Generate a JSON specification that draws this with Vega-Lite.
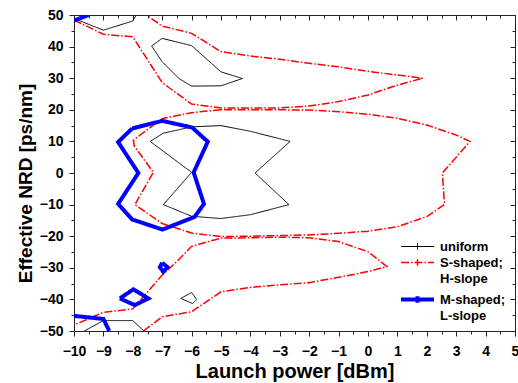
{
  "$schema": "https://vega.github.io/schema/vega-lite/v6.json",
  "width": 441,
  "height": 316,
  "autosize": "none",
  "padding": {"left": 74, "top": 15, "right": 3, "bottom": 52},
  "background": "white",
  "config": {
    "view": {"stroke": null},
    "font": "Liberation Sans",
    "axis": {"grid": false, "domainColor": "#222", "tickColor": "#222", "labelColor": "#000", "titleColor": "#000", "domainWidth": 1, "tickWidth": 1}
  },
  "data": {"values": [
    {"s":"uniform","p":"b1","i":0,"x":-10,"y":48.9},{"s":"uniform","p":"b1","i":1,"x":-9,"y":45.2},{"s":"uniform","p":"b1","i":2,"x":-8,"y":48.1},{"s":"uniform","p":"b1","i":3,"x":-7.88,"y":50},
    {"s":"uniform","p":"b2","i":0,"x":-7.36,"y":40.2},{"s":"uniform","p":"b2","i":1,"x":-7,"y":42.6},{"s":"uniform","p":"b2","i":2,"x":-6,"y":40.3},{"s":"uniform","p":"b2","i":3,"x":-5,"y":32},{"s":"uniform","p":"b2","i":4,"x":-4.27,"y":29.9},{"s":"uniform","p":"b2","i":5,"x":-5,"y":27.6},{"s":"uniform","p":"b2","i":6,"x":-6,"y":27.5},{"s":"uniform","p":"b2","i":7,"x":-6.43,"y":29.9},{"s":"uniform","p":"b2","i":8,"x":-7,"y":35.2},{"s":"uniform","p":"b2","i":9,"x":-7.36,"y":40.2},
    {"s":"uniform","p":"b3","i":0,"x":-7.41,"y":10},{"s":"uniform","p":"b3","i":1,"x":-6.96,"y":12.6},{"s":"uniform","p":"b3","i":2,"x":-6,"y":14.6},{"s":"uniform","p":"b3","i":3,"x":-5,"y":15},{"s":"uniform","p":"b3","i":4,"x":-4,"y":13.2},{"s":"uniform","p":"b3","i":5,"x":-2.65,"y":10},{"s":"uniform","p":"b3","i":6,"x":-3.84,"y":0},{"s":"uniform","p":"b3","i":7,"x":-2.69,"y":-10},{"s":"uniform","p":"b3","i":8,"x":-4,"y":-13.2},{"s":"uniform","p":"b3","i":9,"x":-5,"y":-14.4},{"s":"uniform","p":"b3","i":10,"x":-6,"y":-13.7},{"s":"uniform","p":"b3","i":11,"x":-6.96,"y":-10},{"s":"uniform","p":"b3","i":12,"x":-6,"y":0.2},{"s":"uniform","p":"b3","i":13,"x":-7.41,"y":10},
    {"s":"uniform","p":"b4","i":0,"x":-6.37,"y":-39.7},{"s":"uniform","p":"b4","i":1,"x":-6,"y":-37.8},{"s":"uniform","p":"b4","i":2,"x":-5.83,"y":-40},{"s":"uniform","p":"b4","i":3,"x":-5.97,"y":-41.3},{"s":"uniform","p":"b4","i":4,"x":-6.37,"y":-39.7},
    {"s":"uniform","p":"b5","i":0,"x":-9.65,"y":-50},{"s":"uniform","p":"b5","i":1,"x":-9,"y":-46.7},{"s":"uniform","p":"b5","i":2,"x":-8,"y":-46.7},{"s":"uniform","p":"b5","i":3,"x":-7.62,"y":-50},

    {"s":"S-shaped; H-slope","p":"r1","i":0,"x":-10,"y":48.4},{"s":"S-shaped; H-slope","p":"r1","i":1,"x":-9,"y":43.9},{"s":"S-shaped; H-slope","p":"r1","i":2,"x":-8,"y":43.1},{"s":"S-shaped; H-slope","p":"r1","i":3,"x":-7,"y":28.6},{"s":"S-shaped; H-slope","p":"r1","i":4,"x":-6,"y":21.8},{"s":"S-shaped; H-slope","p":"r1","i":5,"x":-5,"y":20.6},{"s":"S-shaped; H-slope","p":"r1","i":6,"x":-4,"y":20.6},{"s":"S-shaped; H-slope","p":"r1","i":7,"x":-3,"y":20.6},{"s":"S-shaped; H-slope","p":"r1","i":8,"x":-2,"y":21.2},{"s":"S-shaped; H-slope","p":"r1","i":9,"x":-1,"y":22.6},{"s":"S-shaped; H-slope","p":"r1","i":10,"x":0,"y":24.7},{"s":"S-shaped; H-slope","p":"r1","i":11,"x":1,"y":27.8},{"s":"S-shaped; H-slope","p":"r1","i":12,"x":1.86,"y":30},{"s":"S-shaped; H-slope","p":"r1","i":13,"x":1,"y":31},{"s":"S-shaped; H-slope","p":"r1","i":14,"x":0,"y":32.2},{"s":"S-shaped; H-slope","p":"r1","i":15,"x":-1,"y":33.6},{"s":"S-shaped; H-slope","p":"r1","i":16,"x":-2,"y":34.7},{"s":"S-shaped; H-slope","p":"r1","i":17,"x":-3,"y":36},{"s":"S-shaped; H-slope","p":"r1","i":18,"x":-4,"y":37},{"s":"S-shaped; H-slope","p":"r1","i":19,"x":-5,"y":38.4},{"s":"S-shaped; H-slope","p":"r1","i":20,"x":-6,"y":44.2},{"s":"S-shaped; H-slope","p":"r1","i":21,"x":-7,"y":46.5},{"s":"S-shaped; H-slope","p":"r1","i":22,"x":-7.54,"y":50},

    {"s":"S-shaped; H-slope","p":"r2","i":0,"x":-5,"y":20},{"s":"S-shaped; H-slope","p":"r2","i":1,"x":-6,"y":19.1},{"s":"S-shaped; H-slope","p":"r2","i":2,"x":-7,"y":17.2},{"s":"S-shaped; H-slope","p":"r2","i":3,"x":-7.98,"y":10.4},{"s":"S-shaped; H-slope","p":"r2","i":4,"x":-7.95,"y":8.5},{"s":"S-shaped; H-slope","p":"r2","i":5,"x":-7.3,"y":0.2},{"s":"S-shaped; H-slope","p":"r2","i":6,"x":-7.93,"y":-10},{"s":"S-shaped; H-slope","p":"r2","i":7,"x":-7,"y":-16},{"s":"S-shaped; H-slope","p":"r2","i":8,"x":-6,"y":-19},{"s":"S-shaped; H-slope","p":"r2","i":9,"x":-5,"y":-20.1},{"s":"S-shaped; H-slope","p":"r2","i":10,"x":-4,"y":-20},{"s":"S-shaped; H-slope","p":"r2","i":11,"x":-3,"y":-19.8},{"s":"S-shaped; H-slope","p":"r2","i":12,"x":-2,"y":-19.6},{"s":"S-shaped; H-slope","p":"r2","i":13,"x":-1,"y":-19.1},{"s":"S-shaped; H-slope","p":"r2","i":14,"x":0,"y":-18.4},{"s":"S-shaped; H-slope","p":"r2","i":15,"x":1,"y":-17},{"s":"S-shaped; H-slope","p":"r2","i":16,"x":2,"y":-13.8},{"s":"S-shaped; H-slope","p":"r2","i":17,"x":2.6,"y":-10},{"s":"S-shaped; H-slope","p":"r2","i":18,"x":2.53,"y":0},{"s":"S-shaped; H-slope","p":"r2","i":19,"x":3.47,"y":10},{"s":"S-shaped; H-slope","p":"r2","i":20,"x":3,"y":12},{"s":"S-shaped; H-slope","p":"r2","i":21,"x":2,"y":15.2},{"s":"S-shaped; H-slope","p":"r2","i":22,"x":1,"y":17.3},{"s":"S-shaped; H-slope","p":"r2","i":23,"x":0,"y":18.6},{"s":"S-shaped; H-slope","p":"r2","i":24,"x":-1,"y":19.4},{"s":"S-shaped; H-slope","p":"r2","i":25,"x":-2,"y":19.9},{"s":"S-shaped; H-slope","p":"r2","i":26,"x":-3,"y":20},{"s":"S-shaped; H-slope","p":"r2","i":27,"x":-4,"y":20},{"s":"S-shaped; H-slope","p":"r2","i":28,"x":-5,"y":20},

    {"s":"S-shaped; H-slope","p":"r3","i":0,"x":-7.64,"y":-50},{"s":"S-shaped; H-slope","p":"r3","i":1,"x":-7,"y":-45.5},{"s":"S-shaped; H-slope","p":"r3","i":2,"x":-6,"y":-43.9},{"s":"S-shaped; H-slope","p":"r3","i":3,"x":-5,"y":-37.6},{"s":"S-shaped; H-slope","p":"r3","i":4,"x":-4,"y":-36.2},{"s":"S-shaped; H-slope","p":"r3","i":5,"x":-3,"y":-35.4},{"s":"S-shaped; H-slope","p":"r3","i":6,"x":-2,"y":-34.7},{"s":"S-shaped; H-slope","p":"r3","i":7,"x":-1,"y":-33},{"s":"S-shaped; H-slope","p":"r3","i":8,"x":0,"y":-31.2},{"s":"S-shaped; H-slope","p":"r3","i":9,"x":0.64,"y":-29.6},{"s":"S-shaped; H-slope","p":"r3","i":10,"x":0,"y":-24.9},{"s":"S-shaped; H-slope","p":"r3","i":11,"x":-1,"y":-21.7},{"s":"S-shaped; H-slope","p":"r3","i":12,"x":-2,"y":-20.5},{"s":"S-shaped; H-slope","p":"r3","i":13,"x":-3,"y":-20.3},{"s":"S-shaped; H-slope","p":"r3","i":14,"x":-4,"y":-20.5},{"s":"S-shaped; H-slope","p":"r3","i":15,"x":-5,"y":-20.6},{"s":"S-shaped; H-slope","p":"r3","i":16,"x":-6,"y":-23.2},{"s":"S-shaped; H-slope","p":"r3","i":17,"x":-6.5,"y":-28},{"s":"S-shaped; H-slope","p":"r3","i":18,"x":-7,"y":-32.3},{"s":"S-shaped; H-slope","p":"r3","i":19,"x":-8,"y":-43},{"s":"S-shaped; H-slope","p":"r3","i":20,"x":-9,"y":-44.1},{"s":"S-shaped; H-slope","p":"r3","i":21,"x":-10,"y":-48.1},

    {"s":"M-shaped; L-slope","p":"u1","i":0,"x":-8.02,"y":14.1},{"s":"M-shaped; L-slope","p":"u1","i":1,"x":-7,"y":16.5},{"s":"M-shaped; L-slope","p":"u1","i":2,"x":-5.98,"y":14.4},{"s":"M-shaped; L-slope","p":"u1","i":3,"x":-5.45,"y":9.9},{"s":"M-shaped; L-slope","p":"u1","i":4,"x":-5.93,"y":0.2},{"s":"M-shaped; L-slope","p":"u1","i":5,"x":-5.58,"y":-9.8},{"s":"M-shaped; L-slope","p":"u1","i":6,"x":-5.9,"y":-13.9},{"s":"M-shaped; L-slope","p":"u1","i":7,"x":-6.99,"y":-17.9},{"s":"M-shaped; L-slope","p":"u1","i":8,"x":-8.02,"y":-14.7},{"s":"M-shaped; L-slope","p":"u1","i":9,"x":-8.5,"y":-9.8},{"s":"M-shaped; L-slope","p":"u1","i":10,"x":-7.81,"y":0},{"s":"M-shaped; L-slope","p":"u1","i":11,"x":-8.5,"y":9.8},{"s":"M-shaped; L-slope","p":"u1","i":12,"x":-8.02,"y":14.1},
    {"s":"M-shaped; L-slope","p":"u2","i":0,"x":-7,"y":-28.4},{"s":"M-shaped; L-slope","p":"u2","i":1,"x":-6.82,"y":-29.8},{"s":"M-shaped; L-slope","p":"u2","i":2,"x":-6.96,"y":-31.3},{"s":"M-shaped; L-slope","p":"u2","i":3,"x":-7.08,"y":-29.8},{"s":"M-shaped; L-slope","p":"u2","i":4,"x":-7,"y":-28.4},
    {"s":"M-shaped; L-slope","p":"u3","i":0,"x":-8.44,"y":-39.7},{"s":"M-shaped; L-slope","p":"u3","i":1,"x":-7.98,"y":-36.8},{"s":"M-shaped; L-slope","p":"u3","i":2,"x":-7.47,"y":-39.7},{"s":"M-shaped; L-slope","p":"u3","i":3,"x":-7.93,"y":-41.8},{"s":"M-shaped; L-slope","p":"u3","i":4,"x":-8.44,"y":-39.7},
    {"s":"M-shaped; L-slope","p":"u4","i":0,"x":-10,"y":-45.2},{"s":"M-shaped; L-slope","p":"u4","i":1,"x":-9,"y":-46.2},{"s":"M-shaped; L-slope","p":"u4","i":2,"x":-8.8,"y":-50},
    {"s":"M-shaped; L-slope","p":"u5","i":0,"x":-10,"y":48.2},{"s":"M-shaped; L-slope","p":"u5","i":1,"x":-9.51,"y":50}
  ]},
  "layer": [
    {
      "mark": {"type": "line", "clip": true, "strokeJoin": "miter", "strokeCap": "butt"},
      "encoding": {
        "x": {"field": "x", "type": "quantitative", "scale": {"domain": [-10, 5], "nice": false, "zero": false},
          "axis": {"orient": "bottom", "values": [-10,-9,-8,-7,-6,-5,-4,-3,-2,-1,0,1,2,3,4,5], "format": "d", "labelFontSize": 14, "labelFontWeight": "bold", "labelPadding": 8, "tickSize": 5, "labelOverlap": false, "labelFlush": false,
            "title": "Launch power [dBm]", "titleFontSize": 20, "titleFontWeight": "bold", "titleBaseline": "alphabetic", "titleY": 46}},
        "y": {"field": "y", "type": "quantitative", "scale": {"domain": [-50, 50], "nice": false, "zero": false},
          "axis": {"orient": "left", "values": [-50,-40,-30,-20,-10,0,10,20,30,40,50], "format": "d", "labelFontSize": 14, "labelFontWeight": "bold", "labelPadding": 6, "tickSize": 5, "labelOverlap": false, "labelFlush": false,
            "title": "Effective NRD [ps/nm]", "titleFontSize": 19, "titleFontWeight": "bold", "titleBaseline": "alphabetic", "titleX": -43, "titleY": 168}},
        "detail": {"field": "p", "type": "nominal"},
        "order": {"field": "i", "type": "quantitative"},
        "color": {"field": "s", "type": "nominal",
          "scale": {"domain": ["uniform", "S-shaped; H-slope", "M-shaped; L-slope"], "range": ["#000000", "#ff0000", "#0000ff"]},
          "legend": {"orient": "none", "legendX": 337, "legendY": 225, "title": null, "padding": 0, "symbolType": "M-3,0H3M0,-0.6V0.6", "symbolSize": 121, "labelExpr": "split(datum.label, ' ')", "labelFont": "Liberation Sans", "labelFontSize": 13, "labelFontWeight": "bold", "labelColor": "#000", "labelOffset": 16, "labelLimit": 0, "rowPadding": 2,
            "encoding": {
              "symbols": {
                "strokeWidth": {"value": {"expr": "datum.value === 'M-shaped; L-slope' ? 4 : (datum.value === 'uniform' ? 1 : 1.5)"}},
                "strokeDash": {"value": {"expr": "[1, 0]"}}
              },
              "labels": {"lineHeight": {"value": 16}}
            }}},
        "strokeWidth": {"condition": [{"test": "datum.s === 'M-shaped; L-slope'", "value": 4}, {"test": "datum.s === 'S-shaped; H-slope'", "value": 1.5}], "value": 1},
        "strokeDash": {"field": "s", "type": "nominal",
          "scale": {"domain": ["uniform", "S-shaped; H-slope", "M-shaped; L-slope"], "range": [[1, 0], [8, 2, 1.5, 2], [1, 0]]},
          "legend": null}
      }
    },
    {
      "mark": {"type": "point", "opacity": 0},
      "encoding": {
        "x": {"field": "x", "type": "quantitative", "axis": {"orient": "bottom", "values": [-9.5,-8.5,-7.5,-6.5,-5.5,-4.5,-3.5,-2.5,-1.5,-0.5,0.5,1.5,2.5,3.5,4.5], "labels": false, "domain": false, "tickSize": 3, "title": null}},
        "y": {"field": "y", "type": "quantitative", "axis": {"orient": "left", "values": [-45,-35,-25,-15,-5,5,15,25,35,45], "labels": false, "domain": false, "tickSize": 3, "title": null}}
      }
    },
    {
      "mark": {"type": "point", "opacity": 0},
      "encoding": {
        "x": {"field": "x", "type": "quantitative", "axis": {"orient": "top", "values": [-10,-9,-8,-7,-6,-5,-4,-3,-2,-1,0,1,2,3,4,5], "labels": false, "domain": true, "tickSize": -5, "title": null}},
        "y": {"field": "y", "type": "quantitative", "axis": {"orient": "right", "values": [-50,-40,-30,-20,-10,0,10,20,30,40,50], "labels": false, "domain": true, "tickSize": -5, "title": null}}
      }
    },
    {
      "mark": {"type": "point", "opacity": 0},
      "encoding": {
        "x": {"field": "x", "type": "quantitative", "axis": {"orient": "top", "values": [-9.5,-8.5,-7.5,-6.5,-5.5,-4.5,-3.5,-2.5,-1.5,-0.5,0.5,1.5,2.5,3.5,4.5], "labels": false, "domain": false, "tickSize": -3, "title": null}},
        "y": {"field": "y", "type": "quantitative", "axis": {"orient": "right", "values": [-45,-35,-25,-15,-5,5,15,25,35,45], "labels": false, "domain": false, "tickSize": -3, "title": null}}
      }
    }
  ],
  "resolve": {"axis": {"x": "independent", "y": "independent"}}
}
